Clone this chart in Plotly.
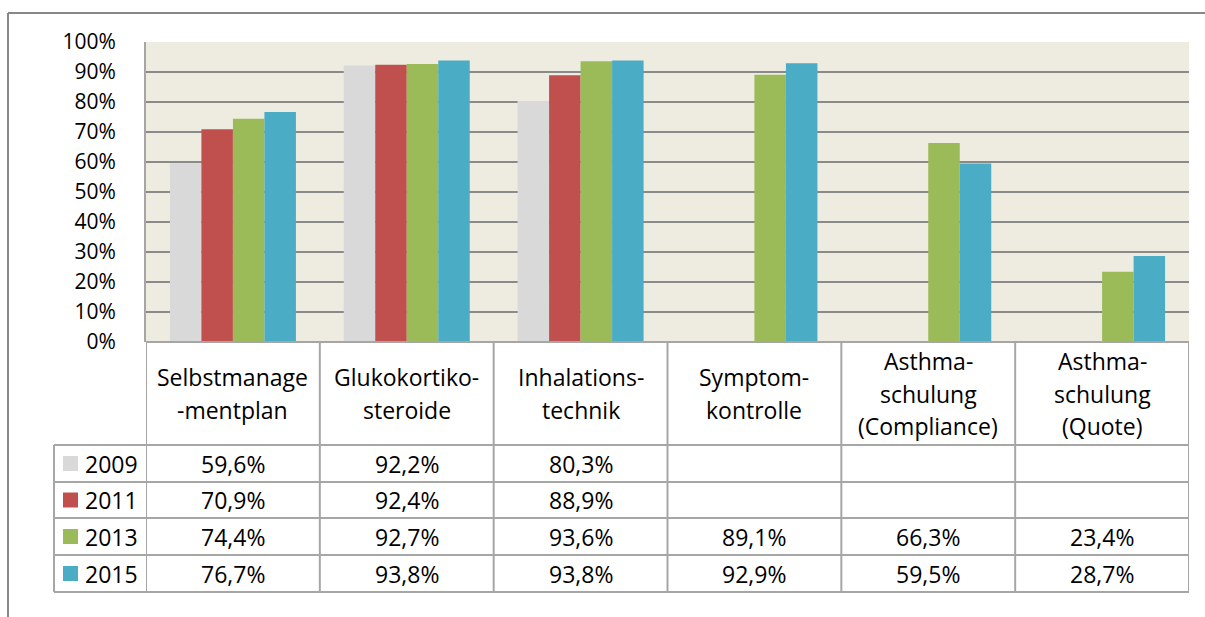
import plotly.graph_objects as go

W, H = 1205, 617

categories = [
    ["Selbstmanage", "-mentplan"],
    ["Glukokortiko-", "steroide"],
    ["Inhalations-", "technik"],
    ["Symptom-", "kontrolle"],
    ["Asthma-", "schulung", "(Compliance)"],
    ["Asthma-", "schulung", "(Quote)"],
]
years = ["2009", "2011", "2013", "2015"]
v2009 = [59.6, 92.2, 80.3, None, None, None]
v2011 = [70.9, 92.4, 88.9, None, None, None]
v2013 = [74.4, 92.7, 93.6, 89.1, 66.3, 23.4]
v2015 = [76.7, 93.8, 93.8, 92.9, 59.5, 28.7]
series = [v2009, v2011, v2013, v2015]
colors = ["#D9D9D9", "#C0504D", "#9BBB59", "#4BACC6"]
yticks = list(range(0, 101, 10))

FONT = "Open Sans, Calibri, sans-serif"
TXT = 23
TICK = 21


def px(x):
    return x / W


def py(y):
    return 1 - y / H


# pixel layout of the Excel-like chart
plot_l, plot_r, plot_t, plot_b = 146, 1189, 42, 342
tab_left = 54
row_edges = [445, 482, 518, 555, 592]
grid_col = "#8A8A8A"
tab_col = "#A6A6A6"

x = list(range(len(categories)))

fig = go.Figure()
for yr, vals, c in zip(years, series, colors):
    fig.add_trace(go.Bar(x=x, y=vals, name=yr, marker=dict(color=c, line=dict(width=0)),
                         showlegend=False))

shapes = []
# outer frame (only top and left visible)
shapes.append(dict(type="line", xref="paper", yref="paper", x0=px(8), x1=px(1215),
                   y0=py(13), y1=py(13), line=dict(color="#888888", width=2)))
shapes.append(dict(type="line", xref="paper", yref="paper", x0=px(8), x1=px(8),
                   y0=py(13), y1=py(630), line=dict(color="#888888", width=2)))

# table vertical lines at category boundaries
for i in range(len(categories) + 1):
    shapes.append(dict(type="line", xref="x", yref="paper", x0=i - 0.5, x1=i - 0.5,
                       y0=py(plot_b), y1=py(row_edges[-1]), line=dict(color=tab_col, width=2)))
# legend column left edge
shapes.append(dict(type="line", xref="paper", yref="paper", x0=px(tab_left), x1=px(tab_left),
                   y0=py(row_edges[0]), y1=py(row_edges[-1]), line=dict(color=tab_col, width=2)))
# table horizontal lines
shapes.append(dict(type="line", xref="x", yref="paper", x0=-0.5, x1=5.5,
                   y0=py(plot_b), y1=py(plot_b), line=dict(color=tab_col, width=2)))
for ry in row_edges:
    shapes.append(dict(type="line", xref="paper", yref="paper", x0=px(tab_left), x1=px(plot_r),
                       y0=py(ry), y1=py(ry), line=dict(color=tab_col, width=2)))

annotations = []
# category header labels
head_c = (plot_b + row_edges[0]) / 2
line_h = 33
for i, lines in enumerate(categories):
    n = len(lines)
    for k, t in enumerate(lines):
        yy = head_c + (k - (n - 1) / 2) * line_h
        annotations.append(dict(x=i, xref="x", y=py(yy), yref="paper", text=t, showarrow=False,
                                xanchor="center", yanchor="middle",
                                font=dict(family=FONT, size=TXT, color="#000000")))

# data rows
for r, (yr, vals, c) in enumerate(zip(years, series, colors)):
    rc = (row_edges[r] + row_edges[r + 1]) / 2
    shapes.append(dict(type="rect", xref="paper", yref="paper", x0=px(63), x1=px(78),
                       y0=py(rc - 7.5), y1=py(rc + 7.5), fillcolor=c, line=dict(width=0)))
    annotations.append(dict(x=px(83), xref="paper", y=py(rc), yref="paper", text=yr,
                            showarrow=False, xanchor="left", yanchor="middle",
                            font=dict(family=FONT, size=TXT, color="#000000")))
    for i, v in enumerate(vals):
        if v is None:
            continue
        annotations.append(dict(x=i, xref="x", y=py(rc), yref="paper",
                                text=f"{v:.1f}%".replace(".", ","), showarrow=False,
                                xanchor="center", yanchor="middle",
                                font=dict(family=FONT, size=TXT, color="#000000")))

fig.update_layout(
    template="none",
    width=W, height=H,
    autosize=False,
    margin=dict(l=0, r=0, t=0, b=0, pad=0),
    paper_bgcolor="white",
    plot_bgcolor="#EEECE1",
    barmode="group",
    bargap=0.275,
    bargroupgap=0,
    showlegend=False,
    font=dict(family=FONT, size=TICK, color="#000000"),
    xaxis=dict(domain=[px(plot_l), px(plot_r)], range=[-0.5, 5.5], showticklabels=False,
               showgrid=False, zeroline=False, ticks="", showline=False, automargin=False,
               fixedrange=True),
    yaxis=dict(domain=[py(plot_b), py(plot_t)], range=[0, 100], tickvals=yticks,
               ticktext=[f"{t}%" for t in yticks], showgrid=True, gridcolor=grid_col,
               gridwidth=1.5, zeroline=False, showline=True, linecolor=tab_col, linewidth=2,
               ticks="", ticklabelstandoff=24, automargin=False,
               tickfont=dict(family=FONT, size=TICK, color="#000000")),
    shapes=shapes,
    annotations=annotations,
)

fig.write_html("out.html", config={"displayModeBar": False},
               post_script="document.body.style.margin='0';")
